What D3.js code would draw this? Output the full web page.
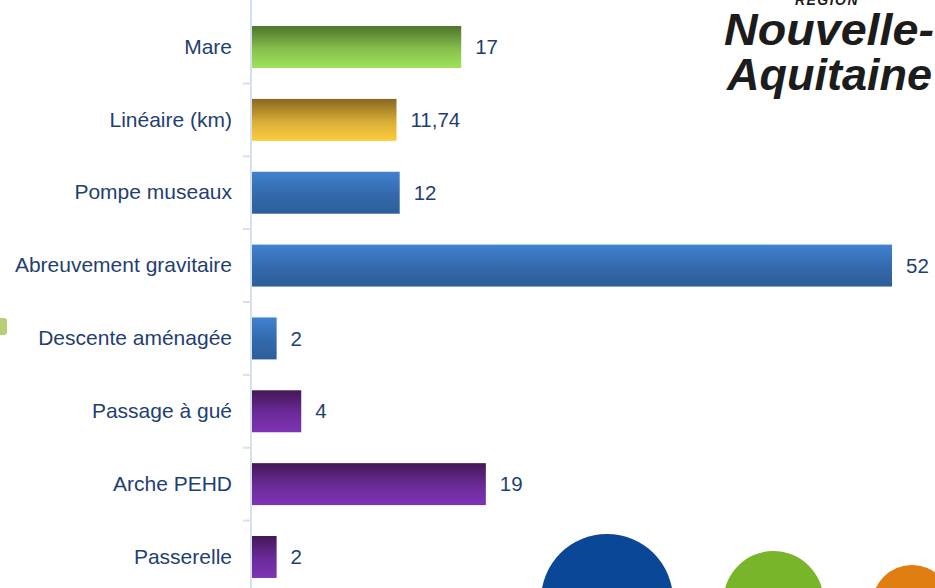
<!DOCTYPE html>
<html><head><meta charset="utf-8">
<script src="https://cdn.jsdelivr.net/npm/d3@7"></script>
<style>html,body{margin:0;padding:0;background:#fff;overflow:hidden}svg{display:block}</style>
</head><body>
<svg id="c" width="935" height="588"></svg>
<script>
const categories = ["Mare","Linéaire (km)","Pompe museaux","Abreuvement gravitaire","Descente aménagée","Passage à gué","Arche PEHD","Passerelle"];
const values = [17, 11.74, 12, 52, 2, 4, 19, 2];
const groups = ["green","gold","blue","blue","blue","purple","purple","purple"];
const gradients = {
  green:  ["#4e722c","#9fe25a"],
  gold:   ["#876721","#fdcd3d"],
  blue:   ["#4082cf","#2e5e9b"],
  purple: ["#431857","#7e33b5"]
};

const svg = d3.select("#c");
const W = 935, H = 588;
const x0 = 252;
const x = d3.scaleLinear().domain([0, 52]).range([x0, 892]);
const y = d3.scaleBand().domain(categories).range([10.6, 593.4]).paddingInner(0.424).paddingOuter(0.212);

const defs = svg.append("defs");
Object.entries(gradients).forEach(([k, c]) => {
  const g = defs.append("linearGradient").attr("id", "g-" + k).attr("x1", 0).attr("y1", 0).attr("x2", 0).attr("y2", 1);
  g.append("stop").attr("offset", "0%").attr("stop-color", c[0]);
  g.append("stop").attr("offset", "55%").attr("stop-color", d3.interpolateRgb(c[0], c[1])(0.7));
  g.append("stop").attr("offset", "100%").attr("stop-color", c[1]);
});

// decorations: bottom circles
svg.append("circle").attr("cx", 607).attr("cy", 600).attr("r", 66).attr("fill", "#0b4797");
svg.append("circle").attr("cx", 773.5).attr("cy", 601).attr("r", 50).attr("fill", "#79b52b");
svg.append("circle").attr("cx", 912).attr("cy", 605).attr("r", 40).attr("fill", "#e07e12");
// left green fragment
svg.append("rect").attr("x", -8).attr("y", 318).attr("width", 15).attr("height", 17).attr("rx", 3).attr("fill", "#a9c65e").attr("opacity", 0.85);

// logo
const logo = svg.append("g").attr("fill", "#1c1c1c").attr("font-family", "'Liberation Sans', Arial, sans-serif").attr("font-weight", "bold").attr("font-style", "italic");
logo.append("text").attr("x", 827).attr("y", 5).attr("text-anchor", "middle").attr("font-size", 14).attr("letter-spacing", 1.5).text("RÉGION");
logo.append("text").attr("x", 724).attr("y", 45).attr("font-size", 45).attr("textLength", 210).attr("lengthAdjust","spacingAndGlyphs").text("Nouvelle-");
logo.append("text").attr("x", 727).attr("y", 90).attr("font-size", 45).attr("textLength", 205).attr("lengthAdjust","spacingAndGlyphs").text("Aquitaine");

// axis
const axis = d3.axisLeft(y).tickSize(0).tickPadding(19);
const ag = svg.append("g").attr("transform", `translate(${x0 - 1},0)`).call(axis);
ag.select(".domain").remove();
ag.selectAll("text").attr("font-family", "'Liberation Sans', Arial, sans-serif").attr("font-size", 21).attr("fill", "#1f3f72");
svg.append("line").attr("x1", x0 - 1).attr("x2", x0 - 1).attr("y1", 0).attr("y2", H).attr("stroke", "#d3e1f3").attr("stroke-width", 2);
// tick marks between categories
const bounds = categories.slice(1).map(c => y(c) - y.step() * y.paddingInner() / 2);
svg.selectAll(".tk").data(bounds).join("line").attr("x1", x0 - 9).attr("x2", x0 - 1)
  .attr("y1", d => d).attr("y2", d => d).attr("stroke", "#d3e1f3").attr("stroke-width", 2);

// bars
svg.selectAll(".bar").data(values).join("rect")
  .attr("x", x0).attr("y", (d, i) => y(categories[i]))
  .attr("width", d => x(d) - x0).attr("height", y.bandwidth())
  .attr("fill", (d, i) => `url(#g-${groups[i]})`);

const fr = d3.formatLocale({decimal: ",", thousands: " ", grouping: [3], currency: ["", "€"]});
const fmt = v => Number.isInteger(v) ? String(v) : fr.format(".2f")(v);
svg.selectAll(".val").data(values).join("text")
  .attr("x", d => x(d) + 14).attr("y", (d, i) => y(categories[i]) + y.bandwidth() / 2)
  .attr("dy", "0.35em").attr("font-family", "'Liberation Sans', Arial, sans-serif").attr("font-size", 20.5)
  .attr("fill", "#1f3f72").text(fmt);
</script>
</body></html>
